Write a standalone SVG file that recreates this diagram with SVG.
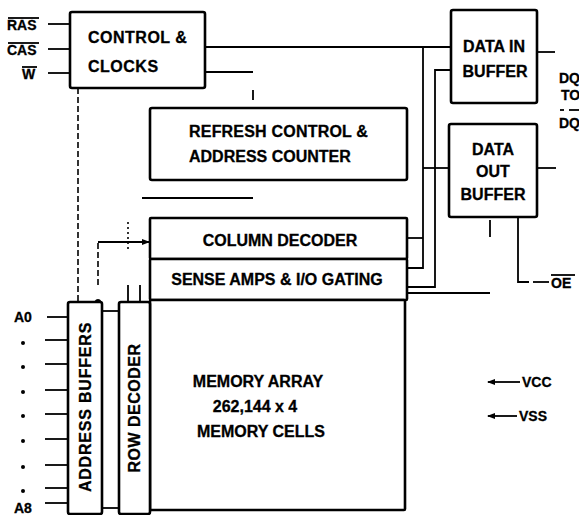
<svg xmlns="http://www.w3.org/2000/svg" width="579" height="515" viewBox="0 0 579 515">
<style>
.box{fill:#fff;stroke:#000;stroke-width:2.6;stroke-linejoin:round}
.ln{fill:none;stroke:#000;stroke-width:1.8}
.dash{fill:none;stroke:#000;stroke-width:1.6;stroke-dasharray:6 3}
.dot{fill:none;stroke:#000;stroke-width:1.6;stroke-dasharray:2 3}
.t{font-family:"Liberation Sans",Arial,sans-serif;font-weight:bold;font-size:16px;fill:#000;stroke:#000;stroke-width:0.3}
.s{font-family:"Liberation Sans",Arial,sans-serif;font-weight:bold;font-size:14px;fill:#000;stroke:#000;stroke-width:0.3}
.m{text-anchor:middle}
</style>
<defs>
<marker id="ah" markerWidth="8" markerHeight="6" refX="7" refY="3" orient="auto" markerUnits="userSpaceOnUse">
<path d="M0,0 L8,3 L0,6 z" fill="#000"/>
</marker>
</defs>
<rect width="579" height="515" fill="#fff"/>

<g id="connectors">
<line class="ln" x1="48" y1="24" x2="70" y2="24"/>
<line class="ln" x1="48" y1="49" x2="70" y2="49"/>
<line class="ln" x1="48" y1="73" x2="70" y2="73"/>
<line class="ln" x1="205" y1="47" x2="451" y2="47"/>
<line class="ln" x1="205" y1="72" x2="253" y2="72"/>
<line class="ln" x1="253" y1="90" x2="253" y2="100"/>
<line class="ln" x1="142" y1="198" x2="253" y2="198"/>
<path class="ln" d="M423 47 V268 H407"/>
<line class="ln" x1="407" y1="238" x2="423" y2="238"/>
<line class="ln" x1="423" y1="168" x2="449" y2="168"/>
<path class="ln" d="M451 70 H435 V287 H407"/>
<line class="ln" x1="407" y1="293" x2="490" y2="293"/>
<line class="ln" x1="490" y1="220" x2="490" y2="237"/>
<path class="ln" d="M518 217 V282 H529"/>
<line class="ln" x1="533" y1="282" x2="549" y2="282"/>
<line class="ln" x1="537" y1="52" x2="555" y2="52"/>
<line class="ln" x1="537" y1="168" x2="556" y2="168"/>
<line class="dash" x1="78" y1="88" x2="78" y2="302"/>
<line class="dash" x1="98" y1="285" x2="98" y2="243"/>
<path class="ln" d="M95 302 Q98 298 101 302"/>
<line class="ln" x1="98" y1="242" x2="149" y2="242" marker-end="url(#ah)"/>
<line class="dot" x1="128" y1="222" x2="128" y2="250"/>
<line class="ln" x1="128" y1="285" x2="128" y2="302"/>
<line class="ln" x1="140" y1="285" x2="140" y2="302"/>
<line class="ln" x1="102" y1="311" x2="119" y2="311"/>
<line class="ln" x1="102" y1="508" x2="119" y2="508"/>
<line class="ln" x1="47" y1="317" x2="68" y2="317"/>
<line class="ln" x1="45" y1="340" x2="68" y2="340"/>
<line class="ln" x1="45" y1="364" x2="68" y2="364"/>
<line class="ln" x1="45" y1="390" x2="68" y2="390"/>
<line class="ln" x1="45" y1="414" x2="68" y2="414"/>
<line class="ln" x1="45" y1="439" x2="68" y2="439"/>
<line class="ln" x1="45" y1="465" x2="68" y2="465"/>
<line class="ln" x1="45" y1="488" x2="68" y2="488"/>
<line class="ln" x1="45" y1="503" x2="68" y2="503"/>
<line class="ln" x1="520" y1="382" x2="488" y2="382" marker-end="url(#ah)"/>
<line class="ln" x1="517" y1="416" x2="488" y2="416" marker-end="url(#ah)"/>
</g>

<g id="control-clocks">
<rect class="box" x="70" y="12" width="135" height="76" rx="2"/>
<text class="t" x="88" y="43" letter-spacing="0.5">CONTROL &amp;</text>
<text class="t" x="88" y="72" letter-spacing="0.5">CLOCKS</text>
</g>

<g id="refresh-control">
<rect class="box" x="150" y="108" width="257" height="72" rx="2"/>
<text class="t" x="189" y="137" letter-spacing="0.2">REFRESH CONTROL &amp;</text>
<text class="t" x="189" y="162">ADDRESS COUNTER</text>
</g>

<g id="column-decoder">
<rect class="box" x="150" y="218" width="257" height="41" rx="1"/>
<text class="t m" x="280" y="246">COLUMN DECODER</text>
</g>

<g id="sense-amps">
<rect class="box" x="150" y="259" width="257" height="41" rx="1"/>
<text class="t m" x="277" y="285">SENSE AMPS &amp; I/O GATING</text>
</g>

<g id="memory-array">
<rect class="box" x="150" y="300" width="255" height="210" rx="1"/>
<text class="t m" x="258" y="387">MEMORY ARRAY</text>
<text class="t m" x="255" y="412">262,144 x 4</text>
<text class="t m" x="261" y="437">MEMORY CELLS</text>
</g>

<g id="address-buffers">
<rect class="box" x="68" y="302" width="34" height="212" rx="2"/>
<text class="t m" x="85" y="407" dominant-baseline="central" letter-spacing="0.8" transform="rotate(-90 85 407)">ADDRESS BUFFERS</text>
</g>

<g id="row-decoder">
<rect class="box" x="119" y="302" width="31" height="212" rx="2"/>
<text class="t m" x="134" y="408" dominant-baseline="central" letter-spacing="0.5" transform="rotate(-90 134 408)">ROW DECODER</text>
</g>

<g id="data-in-buffer">
<rect class="box" x="451" y="10" width="86" height="93" rx="2"/>
<text class="t m" x="494" y="52">DATA IN</text>
<text class="t m" x="495" y="77">BUFFER</text>
</g>

<g id="data-out-buffer">
<rect class="box" x="449" y="124" width="88" height="93" rx="2"/>
<text class="t m" x="493" y="155">DATA</text>
<text class="t m" x="493" y="177">OUT</text>
<text class="t m" x="493" y="200">BUFFER</text>
</g>

<g id="labels">
<text class="s" x="7" y="30">RAS</text>
<line class="ln" x1="8" y1="18" x2="39" y2="18"/>
<text class="s" x="7" y="55">CAS</text>
<line class="ln" x1="8" y1="43" x2="39" y2="43"/>
<text class="s" x="22" y="79">W</text>
<line class="ln" x1="22" y1="67" x2="37" y2="67"/>
<text class="s" x="14" y="322">A0</text>
<text class="s" x="14" y="513">A8</text>
<g fill="#000">
<circle cx="23" cy="343" r="2"/>
<circle cx="23" cy="367" r="2"/>
<circle cx="23" cy="392" r="2"/>
<circle cx="23" cy="416" r="2"/>
<circle cx="23" cy="441" r="2"/>
<circle cx="23" cy="467" r="2"/>
<circle cx="23" cy="491" r="2"/>
</g>
<text class="s" x="522" y="387">VCC</text>
<text class="s" x="519" y="421">VSS</text>
<text class="s" x="551" y="288">OE</text>
<line class="ln" x1="551" y1="275" x2="575" y2="275"/>
<text class="s" x="559" y="83">DQ</text>
<text class="s" x="561" y="100">TO</text>
<line class="ln" x1="560" y1="110" x2="564" y2="110"/>
<line class="ln" x1="569" y1="110" x2="579" y2="110"/>
<text class="s" x="559" y="128">DQ</text>
</g>
</svg>
